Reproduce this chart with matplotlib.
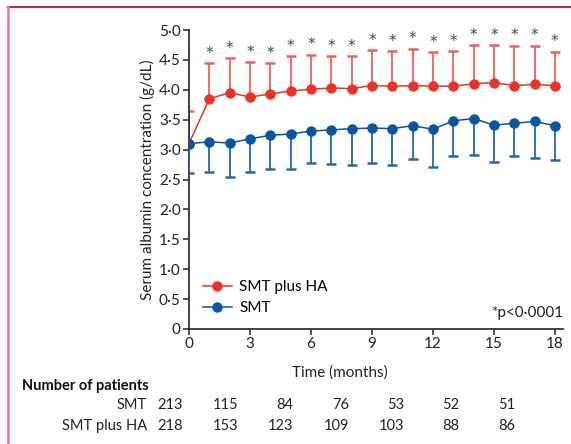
import numpy as np
import matplotlib.pyplot as plt
from matplotlib.lines import Line2D

plt.rcParams['font.family'] = ['Lato', 'DejaVu Sans']

# values (mean and SD, g/dL)
months = np.arange(0, 19)
ha_mean = [3.10, 3.85, 3.95, 3.88, 3.93, 3.98, 4.01, 4.03, 4.02, 4.07,
           4.06, 4.07, 4.06, 4.06, 4.10, 4.12, 4.07, 4.09, 4.07]
ha_sd = [0.55, 0.60, 0.58, 0.59, 0.52, 0.59, 0.58, 0.54, 0.55, 0.60,
         0.59, 0.62, 0.57, 0.59, 0.65, 0.63, 0.67, 0.65, 0.57]
smt_mean = [3.10, 3.13, 3.11, 3.18, 3.24, 3.26, 3.31, 3.33, 3.35, 3.36,
            3.35, 3.40, 3.34, 3.48, 3.52, 3.41, 3.44, 3.47, 3.40]
smt_sd = [0.49, 0.50, 0.56, 0.55, 0.56, 0.59, 0.53, 0.57, 0.60, 0.58,
          0.60, 0.55, 0.63, 0.58, 0.61, 0.62, 0.54, 0.61, 0.57]

# number at risk table
risk_groups = ['SMT', 'SMT plus HA']
n_smt = [213, 115, 84, 76, 53, 52, 51]
n_ha = [218, 153, 123, 109, 103, 88, 86]

red = '#e8332b'
red_err = '#ef5e58'
red_cap = '#c93a3a'
blue = '#0b55a0'
blue_err = '#2467ad'
axcol = '#333333'
fs = 10.5

fig = plt.figure(figsize=(5.71, 4.44), dpi=100)
ax = fig.add_axes([189 / 571, 1 - 329 / 444, 374 / 571, 299 / 444])

eb_ha = ax.errorbar(months, ha_mean, yerr=[np.zeros(len(ha_sd)), ha_sd], color=red,
                    ecolor=red_err, elinewidth=1.3, capsize=3.5, capthick=1.8,
                    marker='o', markersize=6.5, linewidth=1.1, zorder=2)
for cap in eb_ha[1]:
    cap.set_color(red_cap)
ax.errorbar(months, smt_mean, yerr=[smt_sd, np.zeros(len(smt_sd))], color=blue,
            ecolor=blue_err, elinewidth=1.3, capsize=3.5, capthick=1.8,
            marker='o', markersize=6.5, linewidth=1.1, zorder=3)

# significance stars above the SMT plus HA bars
for m, y, s in zip(months[1:], ha_mean[1:], ha_sd[1:]):
    ax.annotate('*', (m, y + s), xytext=(0, 1.5), textcoords='offset points',
                ha='center', va='bottom', fontsize=11, color='#444444',
                family='DejaVu Sans')

ax.set_xlim(0, 18.4)
ax.set_ylim(0, 5)
ax.set_xticks(range(0, 19, 3))
yt = np.arange(0, 5.01, 0.5)
ax.set_yticks(yt)
ax.set_yticklabels(['0' if v == 0 else f'{v:.1f}'.replace('.', '\u00b7') for v in yt])
ax.spines['top'].set_visible(False)
ax.spines['right'].set_visible(False)
for sp in ('left', 'bottom'):
    ax.spines[sp].set_color(axcol)
    ax.spines[sp].set_linewidth(1.3)
ax.tick_params(colors=axcol, labelcolor='#222222', labelsize=11, length=4,
               width=1.2, pad=2)
ax.set_ylabel('Serum albumin concentration (g/dL)', fontsize=11,
              color='#222222', labelpad=3)

handles = [Line2D([], [], color=red, marker='o', markersize=6.5, linewidth=1.1),
           Line2D([], [], color=blue, marker='o', markersize=6.5, linewidth=1.1)]
ax.legend(handles, ['SMT plus HA', 'SMT'], loc='lower left',
          bbox_to_anchor=(0.0, 0.0), frameon=False, fontsize=11,
          handlelength=1.9, handletextpad=0.5, labelspacing=0.45)
ax.text(1.0, 0.055, '*p<0\u00b70001', transform=ax.transAxes, ha='right',
        va='center', fontsize=11, color='#222222')

fig.text(340 / 571, 1 - 373 / 444, 'Time (months)', ha='center', va='center',
         fontsize=11, color='#222222')
fig.text(22 / 571, 1 - 386 / 444, 'Number of patients', ha='left', va='center',
         fontsize=fs, fontweight='bold', color='#111111')
for row, (name, counts) in enumerate(zip(risk_groups, [n_smt, n_ha])):
    yy = 1 - (405 + 21 * row) / 444
    fig.text(147 / 571, yy, name, ha='right', va='center', fontsize=fs,
             color='#222222')
    for k, c in enumerate(counts):
        fig.text((183 + 55.3 * k) / 571, yy, str(c), ha='right', va='center',
                 fontsize=fs, color='#222222')

# page frame lines
fig.add_artist(Line2D([8 / 571, 1], [1 - 7 / 444, 1 - 7 / 444],
                      transform=fig.transFigure, color='#c42a45', linewidth=1.5))
fig.add_artist(Line2D([8 / 571, 8 / 571], [0, 1 - 7 / 444],
                      transform=fig.transFigure, color='#e07f98', linewidth=1.8))

fig.savefig('out.png', dpi=100)
